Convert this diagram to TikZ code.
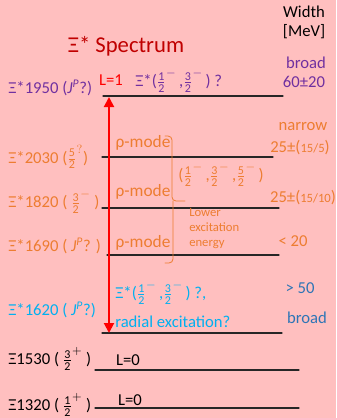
\documentclass[tikz,border=0pt]{standalone}
\usepackage{amsmath}
\usepackage{fontspec}
\setmainfont{Carlito}
\usepackage{tikz}
\usetikzlibrary{arrows.meta}
\definecolor{bgpink}{HTML}{FFBFBF}
\definecolor{titlered}{HTML}{C00000}
\definecolor{midpurple}{HTML}{7030A0}
\definecolor{midorange}{HTML}{ED7D31}
\definecolor{skyblue}{HTML}{00B0F0}
\definecolor{deepblue}{HTML}{2E75B6}
\tikzset{
    lab/.style={
        font=\fontsize{12.5}{14}\selectfont, inner sep=0pt
    },
    modelab/.style={
        font=\fontsize{13}{15}\selectfont, inner sep=0pt, midorange
    },
    smalllab/.style={
        font=\fontsize{9.5}{11.25}\selectfont, inner sep=0pt, align=left
    },
    level/.style={line width=0.8pt, draw=black!85}
}
% small stacked fraction with a sign at its upper right
\newcommand{\fr}[3]{$\genfrac{}{}{0.7pt}{1}{\hbox{\fontsize{9}{9}\selectfont #1}}{\hbox{\fontsize{9}{9}\selectfont #2}}^{#3}$}
\newcommand{\jp}{\textit{J}\textsuperscript{\textit{P}}}

\begin{document}
\begin{tikzpicture}[x=0.75pt,y=-0.75pt, line cap=round, line join=round]

\fill[bgpink] (0,0) rectangle (336,418);
\useasboundingbox (0,0) rectangle (336,418);

\node[font=\fontsize{17}{20}\selectfont, inner sep=0pt, titlered] (title) at (126,46) {Ξ* Spectrum};
\node[lab] (width) at (304,12) {Width};
\node[lab] (mev) at (304,32) {[MeV]};

% levels
\foreach \name/\xa/\xb/\y in {l1950/103/283/96, l2030/102/273/157, l1820/102/279/208,
    l1690/107/279/255, l1620/102/282/333, l1530/95/299/370, l1320/95/299/408} {
  \coordinate (\name w) at (\xa,\y);
  \coordinate (\name e) at (\xb,\y);
  \draw[level] (\name w) -- (\name e);
}

% excitation arrow
\coordinate (atop) at (109,97);
\coordinate (abot) at (109,333);
\draw[{Triangle[width=7.5pt,length=7.5pt]}-{Triangle[width=7.5pt,length=7.5pt]}, red, line width=1.5pt] (atop) -- (abot);

% 1950
\node[lab, midpurple, anchor=west] (t1950) at (8,88) {Ξ*1950 (\jp?)};
\node[lab, red] (lone) at (111,80) {L=1};
\node[lab, midpurple, anchor=west] (p1950) at (135,81) {Ξ*(\fr{1}{2}{-}\,,\fr{3}{2}{-}\,) ?};
\node[lab, midpurple] (w1950a) at (306,63) {broad};
\node[lab, midpurple] (w1950b) at (304,82) {60±20};

% 2030, 1820, 1690
\node[lab, midorange, anchor=west] (t2030) at (8,157) {Ξ*2030 (\fr{5}{2}{?})};
\node[lab, midorange, anchor=west] (t1820) at (8,202) {Ξ*1820 ( \fr{3}{2}{-} )};
\node[lab, midorange, anchor=west] (t1690) at (8,246) {Ξ*1690 ( \jp? )};
\foreach \y [count=\i] in {143,192,243} {
  \node[modelab] (rho\i) at (143,\y) {ρ-mode};
}
\draw[midorange, line width=0.6pt, rounded corners=3pt] (165,136) -| (172,201) -- (185,201);
\draw[midorange, line width=0.6pt, rounded corners=3pt] (173,201) |- (165,263);
\node[lab, midorange, anchor=west] (spins) at (178,175) {(\fr{1}{2}{-}\,,\fr{3}{2}{-}\,,\fr{5}{2}{-}\,)};
\node[smalllab, midorange, anchor=north west] (lower) at (189,208) {Lower\\excitation\\energy};
\node[lab, midorange] (narrow) at (303,127) {narrow};
\node[lab, midorange] (w2030) at (300,148) {25±({\fontsize{9.5}{11}\selectfont 15/5})};
\node[lab, midorange] (w1820) at (303,198) {25±({\fontsize{9.5}{11}\selectfont 15/10})};
\node[lab, midorange] (w1690) at (293,241) {< 20};

% 1620
\node[lab, skyblue, anchor=west] (t1620) at (8,310) {Ξ*1620 ( \jp?)};
\node[lab, skyblue, anchor=west] (p1620) at (115,293) {Ξ*(\fr{1}{2}{-}\,,\fr{3}{2}{-}\,) ?,};
\node[lab, skyblue, anchor=west] (radial) at (115,322) {radial excitation?};
\node[lab, deepblue] (w1620a) at (300,288) {> 50};
\node[lab, deepblue] (w1620b) at (307,318) {broad};

% ground states
\node[lab, anchor=west] (t1530) at (8,359) {Ξ1530 ( \fr{3}{2}{+} )};
\node[lab] (lz1) at (128,360) {L=0};
\node[lab, anchor=west] (t1320) at (8,405) {Ξ1320 ( \fr{1}{2}{+} )};
\node[lab] (lz2) at (130,400) {L=0};

\end{tikzpicture}
\end{document}
